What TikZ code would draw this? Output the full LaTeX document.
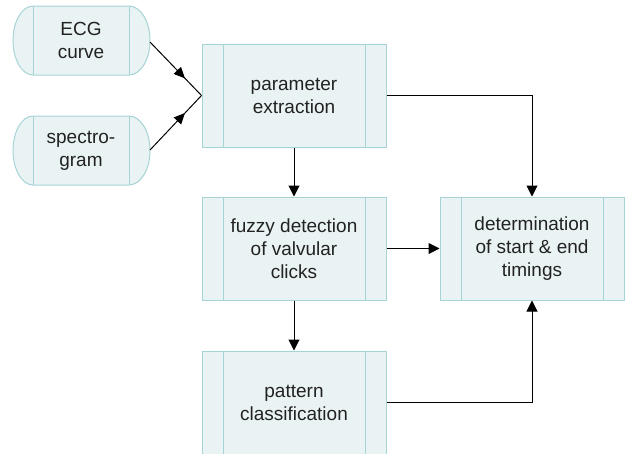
\documentclass[tikz,border=0pt]{standalone}
\usepackage{fontspec}
\setmainfont{Liberation Sans}
\usetikzlibrary{arrows.meta,decorations.markings}
\definecolor{fillc}{HTML}{EAF3F3}
\definecolor{bordc}{HTML}{A6D3D6}
\definecolor{textc}{HTML}{222222}
\begin{document}
\begin{tikzpicture}[x=1pt,y=1pt,
  txt/.style={font=\fontsize{19}{23}\selectfont, text=textc, align=center, inner sep=0},
  procbox/.style={txt, draw=bordc, fill=fillc, line width=1pt, minimum width=184pt, minimum height=103pt,
    path picture={
      \draw[bordc, line width=1pt] ([xshift=21pt]path picture bounding box.north west) -- ([xshift=21pt]path picture bounding box.south west);
      \draw[bordc, line width=1pt] ([xshift=-21pt]path picture bounding box.north east) -- ([xshift=-21pt]path picture bounding box.south east);}},
  term/.style={draw=bordc, fill=fillc, line width=1pt},
  conn/.style={draw=black, line width=1pt, -{Triangle[length=11pt,width=11pt]}},
  midconn/.style={draw=black, line width=1pt, postaction={decorate}, decoration={markings, mark=at position 0.68 with {\arrow{Triangle[length=11pt,width=10pt]}}}}
]
\useasboundingbox (0,0) rectangle (627,-453);
\clip (0,0) rectangle (627,-453);
% terminals
\path[term] (33,-6) -- (129,-6) arc (90:-90:21pt and 34.5pt) -- (33,-75) arc (270:90:20pt and 34.5pt) -- cycle;
\draw[bordc, line width=1pt] (33,-6) -- (33,-75) (129,-6) -- (129,-75);
\node[txt] (ecg) at (81,-40.5) {ECG\\curve};
\path[term] (33,-116) -- (129,-116) arc (90:-90:21pt and 34.5pt) -- (33,-185) arc (270:90:20pt and 34.5pt) -- cycle;
\draw[bordc, line width=1pt] (33,-116) -- (33,-185) (129,-116) -- (129,-185);
\node[txt] (spec) at (81,-150.5) {spectro-\\gram};
\coordinate (ecgout) at (150,-42);
\coordinate (specout) at (150,-150);
% boxes
\node[procbox] (param) at (294,-95.5) {parameter\\extraction};
\node[procbox] (fuzzy) at (294,-248.5) {fuzzy detection\\of valvular\\clicks};
\node[procbox] (det) at (532,-248.5) {determination\\of start \& end\\timings};
\node[procbox] (pat) at (294,-402.5) {pattern\\classification};
% connectors
\path[midconn] (ecgout) -- (param.west);
\path[midconn] (specout) -- (param.west);
\draw[conn] (param.south) -- (fuzzy.north);
\draw[conn] (fuzzy.south) -- (pat.north);
\draw[conn] (fuzzy.east) -- (det.west);
\draw[conn] (param.east) -| (det.north);
\draw[conn] (pat.east) -| (det.south);
\end{tikzpicture}
\end{document}
